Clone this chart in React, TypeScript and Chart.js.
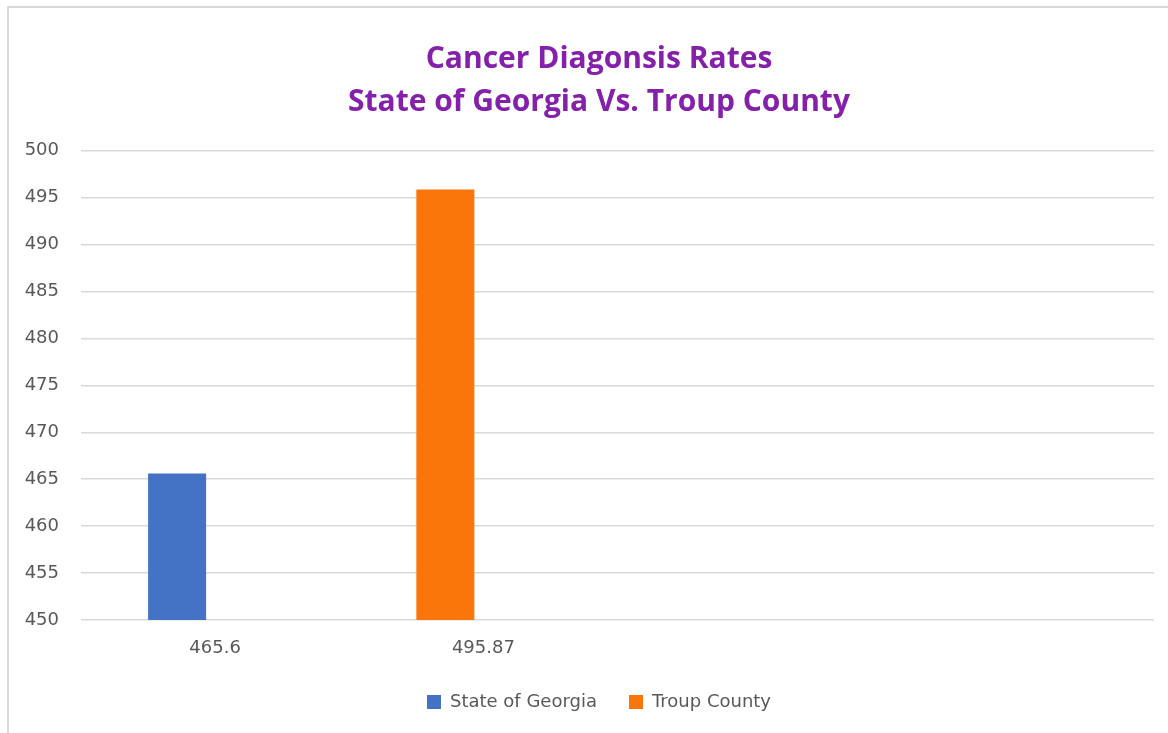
import React, { useEffect, useRef } from "react";
import { Chart, registerables } from "chart.js";

Chart.register(...registerables);

const categories = ["465.6", "495.87", "", ""];
const georgiaValues = [465.6, null, null, null];
const troupValues = [null, 495.87, null, null];
// second (empty) bar slot of each category group, as in the source chart
const emptySlotValues = [null, null, null, null];
const titleLines = ["Cancer Diagonsis Rates", "State of Georgia Vs. Troup County"];
const yMin = 450;
const yMax = 500;
const yStep = 5;

const smallFont = { family: "DejaVu Sans", size: 18 };

export default function App() {
  const ref = useRef<HTMLCanvasElement | null>(null);

  useEffect(() => {
    document.body.style.margin = "0";
    document.body.style.background = "#ffffff";
    if (!ref.current) return;
    const ctx = ref.current.getContext("2d")!;
    ctx.font = "18px 'DejaVu Sans'";
    const widest = Math.max(...[500, 495, 450].map((v) => ctx.measureText(String(v)).width));
    const chart = new Chart(ref.current, {
      type: "bar",
      data: {
        labels: categories,
        datasets: [
          {
            label: "State of Georgia",
            data: georgiaValues,
            backgroundColor: "#4472C4",
            stack: "left",
          },
          {
            label: "Troup County",
            data: troupValues,
            backgroundColor: "#FB760A",
            stack: "left",
          },
          {
            label: "",
            data: emptySlotValues,
            backgroundColor: "rgba(0,0,0,0)",
            stack: "right",
          },
        ],
      },
      options: {
        responsive: false,
        animation: false,
        maintainAspectRatio: false,
        datasets: {
          bar: {
            categoryPercentage: 0.567,
            barPercentage: 0.763,
          },
        },
        layout: {
          padding: { top: 10, left: 44, right: 14, bottom: 12 },
        },
        plugins: {
          tooltip: { enabled: false },
          title: {
            display: true,
            text: titleLines,
            color: "#8420AA",
            font: { family: "Open Sans", size: 30, weight: "bold", lineHeight: 1.43 },
            padding: { top: 28, bottom: 27 },
          },
          legend: {
            position: "bottom",
            labels: {
              filter: (item: any) => item.text !== "",
              boxWidth: 14,
              boxHeight: 14,
              padding: 32,
              color: "#595959",
              font: smallFont,
            },
          },
        },
        scales: {
          x: {
            grid: { display: false, drawTicks: false },
            border: { display: false },
            ticks: {
              color: "#595959",
              font: smallFont,
              padding: 18,
              autoSkip: false,
              maxRotation: 0,
            },
            afterFit: (scale: any) => {
              scale.height = 41;
            },
          },
          y: {
            min: yMin,
            max: yMax,
            stacked: false,
            grid: { color: "#D9D9D9", lineWidth: 1.5, drawTicks: false },
            border: { display: false },
            ticks: {
              stepSize: yStep,
              color: "#595959",
              font: smallFont,
              mirror: true,
              crossAlign: "far",
              padding: -22 - widest,
            },
            afterFit: (scale: any) => {
              scale.width = 37;
            },
          },
        },
      },
    });
    return () => chart.destroy();
  }, []);

  return (
    <div style={{ position: "relative", width: 1168, height: 733, background: "#fff", overflow: "hidden" }}>
      <div
        style={{
          position: "absolute",
          left: 7,
          top: 6,
          width: 1168,
          height: 740,
          borderLeft: "2px solid #D9D9D9",
          borderTop: "2px solid #D9D9D9",
          boxSizing: "border-box",
        }}
      />
      <canvas ref={ref} width={1168} height={733} style={{ position: "absolute", left: 0, top: 0 }} />
    </div>
  );
}
